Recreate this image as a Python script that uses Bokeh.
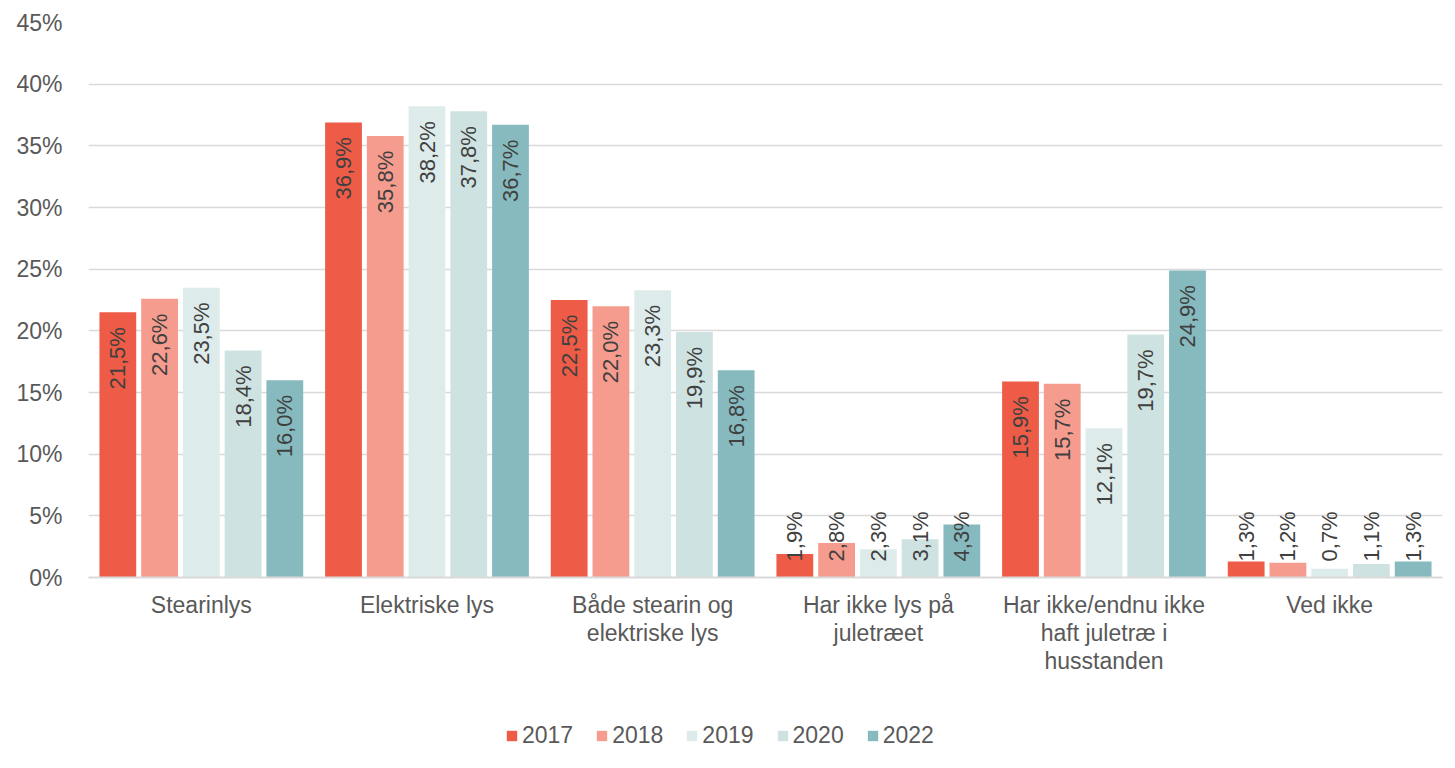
import math
from bokeh.plotting import figure
from bokeh.layouts import column
from bokeh.models import FactorRange, Range1d, FixedTicker, Legend, LegendItem, ColumnDataSource
from bokeh.transform import dodge
from bokeh.core.properties import value
from bokeh.embed import file_html
from bokeh.resources import INLINE

# ---------------- data ----------------
categories = [
    "Stearinlys",
    "Elektriske lys",
    "Både stearin og\nelektriske lys",
    "Har ikke lys på\njuletræet",
    "Har ikke/endnu ikke\nhaft juletræ i\nhusstanden",
    "Ved ikke",
]
years = ["2017", "2018", "2019", "2020", "2022"]
v2017 = [21.5, 36.9, 22.5, 1.9, 15.9, 1.3]
v2018 = [22.6, 35.8, 22.0, 2.8, 15.7, 1.2]
v2019 = [23.5, 38.2, 23.3, 2.3, 12.1, 0.7]
v2020 = [18.4, 37.8, 19.9, 3.1, 19.7, 1.1]
v2022 = [16.0, 36.7, 16.8, 4.3, 24.9, 1.3]
y_ticks = [0, 5, 10, 15, 20, 25, 30, 35, 40, 45]

series = [v2017, v2018, v2019, v2020, v2022]
colors = ["#EE5B47", "#F59C8E", "#DDEBEA", "#CEE3E1", "#86BABE"]
offsets = [-0.37, -0.185, 0.0, 0.185, 0.37]
bar_w = 0.163

FONT = "Liberation Sans"
TXT = "#595959"
FS = "23px"

p = figure(
    x_range=FactorRange(factors=categories, range_padding=0),
    y_range=Range1d(0, 45),
    width=1447, height=718,
    min_border_left=88, min_border_right=5, min_border_top=22, min_border_bottom=141,
    output_backend="svg", toolbar_location=None,
)
p.outline_line_color = None
p.background_fill_color = "white"
p.border_fill_color = "white"

data = {"cat": categories}
for y, s in zip(years, series):
    data["y" + y] = s
src = ColumnDataSource(data)

for y, s, c, off in zip(years, series, colors, offsets):
    p.vbar(x=dodge("cat", off, range=p.x_range), top="y" + y, width=bar_w,
           source=src, fill_color=c, line_color=None)

    tall = {"cat": [], "pos": [], "lab": []}
    small = {"cat": [], "pos": [], "lab": []}
    for cat, v in zip(categories, s):
        lab = f"{v:.1f}%".replace(".", ",")
        if v >= 6:
            tall["cat"].append(cat); tall["pos"].append(v - 1.2); tall["lab"].append(lab)
        else:
            small["cat"].append(cat); small["pos"].append(1.3); small["lab"].append(lab)
    for d, align in ((tall, "right"), (small, "left")):
        p.text(x=dodge("cat", off, range=p.x_range), y="pos", text="lab",
               source=ColumnDataSource(d), angle=math.pi / 2,
               text_align=align, text_baseline="middle",
               text_font=value(FONT), text_font_size="22px", text_color="#404040")

# axes
p.yaxis.ticker = FixedTicker(ticks=y_ticks)
p.yaxis.major_label_overrides = {t: f"{t}%" for t in y_ticks}
p.yaxis.axis_line_color = None
p.yaxis.major_tick_line_color = None
p.yaxis.minor_tick_line_color = None
p.yaxis.major_label_standoff = 20
p.yaxis.major_label_text_font = FONT
p.yaxis.major_label_text_font_size = FS
p.yaxis.major_label_text_color = TXT

p.xaxis.axis_line_color = "#D9D9D9"
p.xaxis.axis_line_width = 2
p.xaxis.major_tick_line_color = None
p.xaxis.minor_tick_line_color = None
p.xaxis.major_label_standoff = 8
p.xaxis.major_label_text_font = FONT
p.xaxis.major_label_text_font_size = FS
p.xaxis.major_label_text_color = TXT
p.xaxis.major_label_text_line_height = 1.08
p.xaxis.major_label_orientation = "horizontal"

p.xgrid.grid_line_color = None
p.ygrid.ticker = FixedTicker(ticks=y_ticks)
p.ygrid.grid_line_color = "#D9D9D9"
p.ygrid.grid_line_width = 1.5

# ---------------- legend strip ----------------
# same bars, drawn into a range far above the data so only the legend shows
lg = figure(width=1447, height=34,
            x_range=FactorRange(factors=categories, range_padding=0),
            y_range=Range1d(1000, 1001),
            x_axis_type=None, y_axis_type=None, min_border=0,
            output_backend="svg", toolbar_location=None)
lg.outline_line_color = None
lg.grid.visible = False
lg.background_fill_color = "white"
items = []
for y, c, off in zip(years, colors, offsets):
    r = lg.vbar(x=dodge("cat", off, range=lg.x_range), top="y" + y, width=bar_w,
                source=src, fill_color=c, line_color=None)
    items.append(LegendItem(label=y, renderers=[r]))

legend = Legend(
    items=items,
    orientation="horizontal",
    location=(417, 3),
    glyph_width=13, glyph_height=13, label_standoff=4, spacing=22,
    padding=0, margin=0,
    border_line_color=None, background_fill_alpha=0,
    label_text_font=FONT, label_text_font_size=FS, label_text_color=TXT,
)
lg.add_layout(legend, "center")

layout = column(p, lg, spacing=0)
open("out.html", "w").write(file_html(layout, INLINE))
